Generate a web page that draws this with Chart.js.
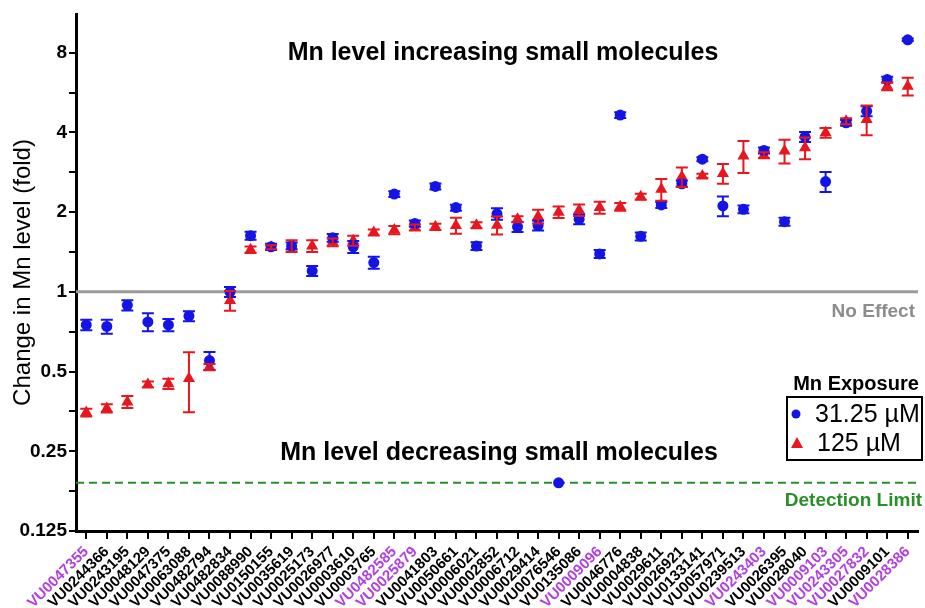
<!DOCTYPE html>
<html>
<head>
<meta charset="utf-8">
<script src="https://cdn.jsdelivr.net/npm/chart.js@4/dist/chart.umd.min.js"></script>
<style>
  html, body { margin: 0; padding: 0; background: #fff; }
  #wrap { width: 925px; height: 608px; position: relative; }
</style>
</head>
<body>
<div id="wrap"><canvas id="mnChart"></canvas></div>
<script>
// compounds, ordered as in the figure
const compounds = [
  'VU0047355', 'VU0244366', 'VU0243195', 'VU0048129', 'VU0047375', 'VU0063088', 'VU0482794',
  'VU0482834', 'VU0088990', 'VU0150155', 'VU0035619', 'VU0025173', 'VU0026977', 'VU0003610',
  'VU0003765', 'VU0482585', 'VU0025879', 'VU0041803', 'VU0050661', 'VU0006021', 'VU0002852',
  'VU0006712', 'VU0029414', 'VU0076546', 'VU0135086', 'VU0009096', 'VU0046776', 'VU0004838',
  'VU0029611', 'VU0026921', 'VU0133141', 'VU0057971', 'VU0239513', 'VU0243403', 'VU0026395',
  'VU0028040', 'VU0009103', 'VU0243305', 'VU0027832', 'VU0009101', 'VU0028386'
];
const highlighted = ['VU0047355', 'VU0482585', 'VU0025879', 'VU0009096', 'VU0243403',
  'VU0009103', 'VU0243305', 'VU0027832', 'VU0028386'];

// fold change, 31.25 uM Mn
const low = [
  0.75, 0.74, 0.89, 0.77, 0.75, 0.81, 0.55, 1.00, 1.63, 1.48,
  1.49, 1.20, 1.60, 1.48, 1.29, 2.34, 1.81, 2.50, 2.08, 1.49,
  1.97, 1.76, 1.78, 0.19, 1.88, 1.39, 4.65, 1.62, 2.13, 2.56,
  3.17, 2.11, 2.05, 3.42, 1.84, 3.85, 2.61, 4.35, 4.81, 6.33, 8.95
];
const lowErr = [
  0.034, 0.045, 0.04, 0.06, 0.04, 0.035, 0.043, 0.043, 0.057, 0.04,
  0.045, 0.052, 0.055, 0.077, 0.067, 0.06, 0.05, 0.065, 0.054, 0.05,
  0.10, 0.076, 0.077, 0, 0.08, 0.048, 0.12, 0.056, 0.055, 0.067,
  0.055, 0.18, 0.071, 0.09, 0.064, 0.167, 0.226, 0.11, 0.21, 0.16, 0.1
];

// fold change, 125 uM Mn
const high = [
  0.35, 0.363, 0.384, 0.447, 0.45, 0.471, 0.52, 0.928, 1.443, 1.473,
  1.49, 1.49, 1.538, 1.56, 1.677, 1.711, 1.751, 1.76, 1.78, 1.786,
  1.786, 1.88, 1.927, 2.0, 2.035, 2.08, 2.095, 2.285, 2.44, 2.72,
  2.74, 2.80, 3.26, 3.28, 3.40, 3.5, 3.99, 4.41, 4.48, 5.97, 5.97
];
const highErr = [
  0.012, 0.013, 0.02, 0.012, 0.02, 0.12, 0.014, 0.08, 0.04, 0.025,
  0.077, 0.077, 0.053, 0.068, 0.043, 0.06, 0.045, 0.046, 0.123, 0.046,
  0.14, 0.05, 0.117, 0.1, 0.1, 0.108, 0.07, 0.06, 0.23, 0.23,
  0.05, 0.24, 0.45, 0.085, 0.35, 0.33, 0.17, 0.115, 0.58, 0.2, 0.46
];

const yMajor = [0.125, 0.25, 0.5, 1, 2, 4, 8];
const noEffect = 1;
const detectionLimit = 0.19;

const BLUE = '#1414e6';
const RED = '#e8161e';
const GREEN = '#2a8f2a';
const FONT = '"Liberation Sans", Arial, sans-serif';

const errorBars = {
  id: 'errorBars',
  afterDatasetsDraw(chart) {
    const ctx = chart.ctx;
    const y = chart.scales.y;
    chart.data.datasets.forEach((ds, di) => {
      const meta = chart.getDatasetMeta(di);
      ctx.save();
      ctx.strokeStyle = ds.borderColor;
      ctx.lineWidth = 2;
      meta.data.forEach((pt, i) => {
        const e = ds.errors[i];
        if (!e) return;
        const v = ds.data[i];
        const top = y.getPixelForValue(v + e);
        const bot = y.getPixelForValue(Math.max(v - e, 0.01));
        ctx.beginPath();
        ctx.moveTo(pt.x, top); ctx.lineTo(pt.x, bot);
        ctx.moveTo(pt.x - 6, top); ctx.lineTo(pt.x + 6, top);
        ctx.moveTo(pt.x - 6, bot); ctx.lineTo(pt.x + 6, bot);
        ctx.stroke();
      });
      ctx.restore();
    });
  }
};

const annotations = {
  id: 'annotations',
  beforeDatasetsDraw(chart) {
    const { ctx, chartArea, scales } = chart;
    const y1 = scales.y.getPixelForValue(noEffect);
    const yd = scales.y.getPixelForValue(detectionLimit);
    ctx.save();
    ctx.strokeStyle = '#9a9a9a';
    ctx.lineWidth = 3;
    ctx.beginPath();
    ctx.moveTo(chartArea.left, y1); ctx.lineTo(chartArea.right, y1);
    ctx.stroke();
    ctx.strokeStyle = GREEN;
    ctx.lineWidth = 2;
    ctx.setLineDash([8, 5]);
    ctx.beginPath();
    ctx.moveTo(chartArea.left, yd); ctx.lineTo(chartArea.right, yd);
    ctx.stroke();
    ctx.restore();
  },
  afterDraw(chart) {
    const { ctx, scales } = chart;
    const y1 = scales.y.getPixelForValue(noEffect);
    const yd = scales.y.getPixelForValue(detectionLimit);
    ctx.save();
    ctx.textBaseline = 'middle';
    ctx.fillStyle = '#000';
    ctx.textAlign = 'center';
    ctx.font = 'bold 25px ' + FONT;
    ctx.fillText('Mn level increasing small molecules', 503, 53);
    ctx.fillText('Mn level decreasing small molecules', 499, 453);

    ctx.textAlign = 'right';
    ctx.font = 'bold 19px ' + FONT;
    ctx.fillStyle = '#8c8c8c';
    ctx.fillText('No Effect', 915, y1 + 20);
    ctx.fillStyle = GREEN;
    ctx.fillText('Detection Limit', 922, yd + 18);

    // legend
    ctx.fillStyle = '#000';
    ctx.textAlign = 'center';
    ctx.font = 'bold 20px ' + FONT;
    ctx.fillText('Mn Exposure', 856, 384);
    ctx.strokeStyle = '#000';
    ctx.lineWidth = 2;
    ctx.strokeRect(787, 397, 135, 63);
    ctx.fillStyle = BLUE;
    ctx.beginPath();
    ctx.arc(796, 414, 4.5, 0, Math.PI * 2);
    ctx.fill();
    ctx.fillStyle = RED;
    ctx.beginPath();
    ctx.moveTo(797, 437); ctx.lineTo(803, 448); ctx.lineTo(791, 448);
    ctx.closePath();
    ctx.fill();
    ctx.fillStyle = '#000';
    ctx.textAlign = 'left';
    ctx.font = '25px ' + FONT;
    ctx.fillText(chart.data.datasets[0].label, 815, 415);
    ctx.fillText(chart.data.datasets[1].label, 817, 444);
    ctx.restore();
  }
};

new Chart(document.getElementById('mnChart'), {
  type: 'line',
  data: {
    labels: compounds,
    datasets: [{
      label: '31.25 µM',
      data: low,
      errors: lowErr,
      showLine: false,
      pointStyle: 'circle',
      pointRadius: 5.5,
      pointHoverRadius: 5.5,
      backgroundColor: BLUE,
      borderColor: BLUE,
      borderWidth: 0
    }, {
      label: '125 µM',
      data: high,
      errors: highErr,
      showLine: false,
      pointStyle: 'triangle',
      pointRadius: 7,
      pointHoverRadius: 7,
      backgroundColor: RED,
      borderColor: RED,
      borderWidth: 0
    }]
  },
  options: {
    responsive: true,
    maintainAspectRatio: false,
    animation: false,
    layout: { padding: { top: 14, right: 4, left: 0, bottom: 0 } },
    plugins: {
      legend: { display: false },
      tooltip: { enabled: false }
    },
    scales: {
      x: {
        offset: true,
        border: { color: '#000', width: 3 },
        grid: { drawOnChartArea: false, color: '#000', lineWidth: 2, tickLength: 8 },
        ticks: {
          autoSkip: false,
          minRotation: 45,
          maxRotation: 45,
          padding: 4,
          color: c => highlighted.includes(compounds[c.index]) ? '#b23fdf' : '#000',
          font: { family: FONT, size: 15, weight: 'bold' }
        },
        afterFit: s => { s.height = 77; }
      },
      y: {
        type: 'logarithmic',
        min: 0.125,
        max: 11.2,
        border: { color: '#000', width: 3 },
        grid: { drawOnChartArea: false, color: '#000', lineWidth: 2, tickLength: 7 },
        afterBuildTicks: s => {
          const t = [];
          yMajor.forEach((v, i) => {
            t.push({ value: v });
            if (i < yMajor.length - 1) t.push({ value: v * Math.SQRT2 });
          });
          s.ticks = t;
        },
        ticks: {
          autoSkip: false,
          padding: 2,
          color: '#000',
          font: { family: FONT, size: 19, weight: 'bold' },
          callback: v => yMajor.includes(v) ? String(v) : ''
        },
        title: {
          display: true,
          text: 'Change in Mn level (fold)',
          color: '#000',
          padding: { top: 9, bottom: 0 },
          font: { family: FONT, size: 24 }
        },
        afterFit: s => { s.width = 76; }
      }
    }
  },
  plugins: [annotations, errorBars]
});
</script>
</body>
</html>
